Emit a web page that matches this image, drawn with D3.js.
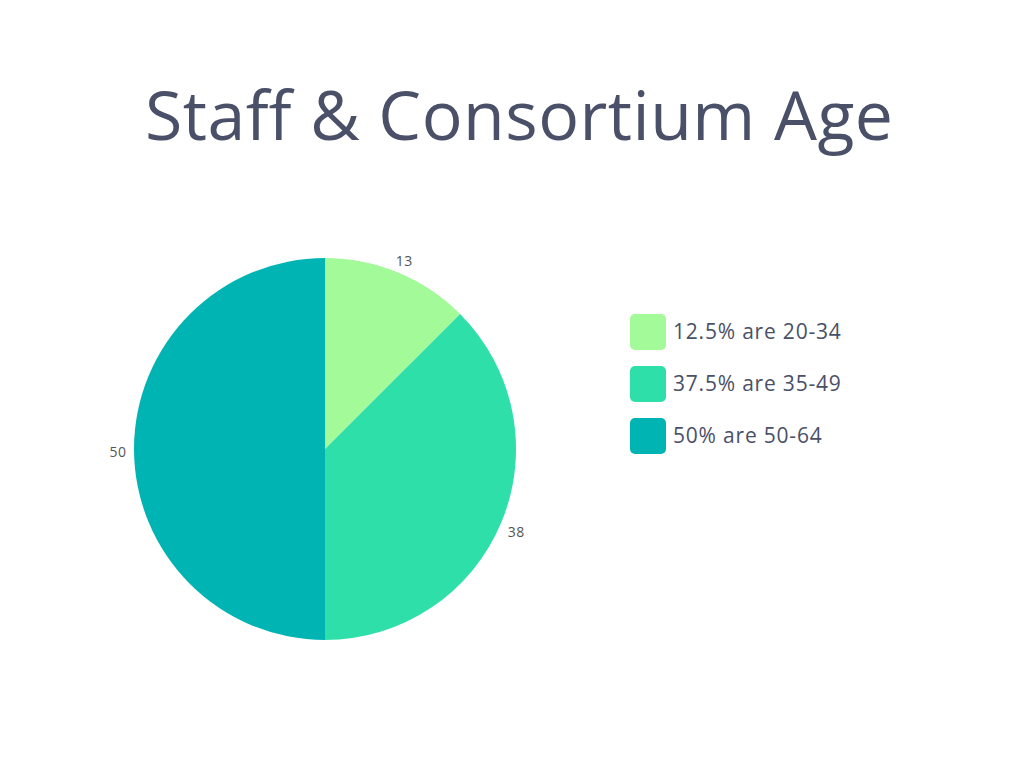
<!DOCTYPE html>
<html>
<head>
<meta charset="utf-8">
<script src="https://cdn.jsdelivr.net/npm/d3@7"></script>
<style>
  body { margin: 0; background: #fff; }
  text { font-family: "Open Sans", "Noto Sans", sans-serif; }
</style>
</head>
<body>
<div id="chart"></div>
<script>
const categories = ["20-34", "35-49", "50-64"];
const shares = [12.5, 37.5, 50];
const legendLabels = ["12.5% are 20-34", "37.5% are 35-49", "50% are 50-64"];
const colors = ["#a2fa98", "#2edfaa", "#00b4b3"];

const width = 1024, height = 768;
const textColor = "#4a5068";

const svg = d3.select("#chart")
    .append("svg")
    .attr("width", width)
    .attr("height", height);

svg.append("text")
    .attr("x", 519)
    .attr("y", 140)
    .attr("text-anchor", "middle")
    .attr("fill", textColor)
    .attr("font-size", 68)
    .attr("font-weight", 400)
    .attr("textLength", 748)
    .attr("lengthAdjust", "spacing")
    .text("Staff & Consortium Age");

const radius = 191;
const pieG = svg.append("g")
    .attr("transform", "translate(325,449)");

const pie = d3.pie().sort(null).value(d => d);
const arcs = pie(shares);
const arc = d3.arc().innerRadius(0).outerRadius(radius);
const labelArc = d3.arc().innerRadius(207).outerRadius(207);

pieG.selectAll("path.slice")
    .data(arcs)
    .enter()
    .append("path")
    .attr("class", "slice")
    .attr("d", arc)
    .attr("fill", (d, i) => colors[i]);

pieG.selectAll("text.val")
    .data(arcs)
    .enter()
    .append("text")
    .attr("class", "val")
    .attr("transform", d => `translate(${labelArc.centroid(d)})`)
    .attr("text-anchor", "middle")
    .attr("dy", "0.6em")
    .attr("font-size", 14)
    .attr("letter-spacing", 0.5)
    .attr("fill", "#555")
    .text(d => Math.round(d.data));

const legend = svg.append("g")
    .attr("transform", "translate(630,314)");

const rows = legend.selectAll("g.row")
    .data(categories)
    .enter()
    .append("g")
    .attr("class", "row")
    .attr("transform", (d, i) => `translate(0,${i * 52})`);

rows.append("rect")
    .attr("width", 36)
    .attr("height", 36)
    .attr("rx", 5)
    .attr("fill", (d, i) => colors[i]);

rows.append("text")
    .attr("x", 43)
    .attr("y", 18)
    .attr("dy", "0.35em")
    .attr("font-size", 21)
    .attr("letter-spacing", 0.8)
    .attr("fill", textColor)
    .text((d, i) => legendLabels[i]);
</script>
</body>
</html>
